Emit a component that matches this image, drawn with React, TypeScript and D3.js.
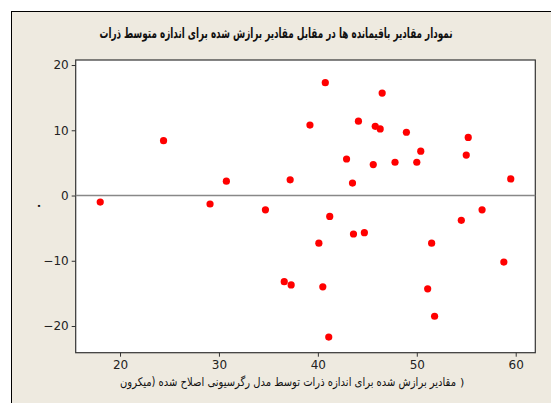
import React, { useEffect, useRef } from "react";
import * as d3 from "d3";

// fitted values (micron) and residuals
const fitted = [
  18.0, 24.4, 30.75, 37.2, 39.2, 29.1, 34.7, 40.1, 36.6, 37.3,
  40.75, 46.5, 44.1, 45.8, 46.3, 48.95, 55.2, 50.4, 55.0, 42.9,
  45.6, 47.8, 50.0, 59.5, 43.5, 41.2, 56.6, 54.5, 43.6, 44.7,
  51.5, 58.8, 40.5, 51.1, 51.8, 41.1,
];
const residuals = [
  -1.0, 8.4, 2.2, 2.4, 10.8, -1.3, -2.2, -7.3, -13.2, -13.7,
  17.3, 15.7, 11.4, 10.6, 10.2, 9.7, 8.9, 6.8, 6.2, 5.6,
  4.75, 5.1, 5.1, 2.55, 1.9, -3.2, -2.2, -3.8, -5.9, -5.7,
  -7.3, -10.2, -14.0, -14.3, -18.5, -21.7,
];
const xTicks = [20, 30, 40, 50, 60];
const yTicks = [-20, -10, 0, 10, 20];

const title = "نمودار مقادیر باقیمانده ها در مقابل مقادیر برازش شده برای اندازه متوسط ذرات";
// the closing bracket is drawn on its own, at the right end, as the source shows it
const xLabel = "مقادیر برازش شده برای اندازه ذرات توسط مدل رگرسیونی اصلاح شده (میکرون";
const yLabel = ".";

const App = () => {
  const svgRef = useRef(null);

  useEffect(() => {
    const width = 551;
    const height = 403;
    const left = 75.7, right = 535.3, top = 60, bottom = 352.7;
    const font = "Tahoma, 'DejaVu Sans', sans-serif";

    const x = d3.scaleLinear().domain([15.52, 61.98]).range([left, right]);
    const y = d3.scaleLinear().domain([-24.09, 20.77]).range([bottom, top]);

    const svg = d3.select(svgRef.current);
    svg.selectAll("*").remove();

    svg.append("rect").attr("width", width).attr("height", height).attr("fill", "#fff");
    // outer panel
    svg.append("rect")
      .attr("x", 11.5).attr("y", 11.5)
      .attr("width", width).attr("height", height)
      .attr("fill", "#eeeae0")
      .attr("stroke", "#000").attr("stroke-width", 1);

    svg.append("text")
      .attr("x", 276).attr("y", 38)
      .attr("text-anchor", "middle")
      .attr("font-family", font).attr("font-size", 14).attr("font-weight", "bold")
      .attr("textLength", 353).attr("lengthAdjust", "spacingAndGlyphs")
      .attr("fill", "#111")
      .text(title);

    // plot box
    svg.append("rect")
      .attr("x", left).attr("y", top)
      .attr("width", right - left).attr("height", bottom - top)
      .attr("fill", "#fff")
      .attr("stroke", "#333").attr("stroke-width", 1.2);

    const xAxis = d3.axisBottom(x).tickValues(xTicks).tickSize(4).tickPadding(4);
    const gx = svg.append("g").attr("transform", `translate(0,${bottom})`).call(xAxis);
    const yAxis = d3.axisLeft(y).tickValues(yTicks).tickSize(4).tickPadding(3);
    const gy = svg.append("g").attr("transform", `translate(${left},0)`).call(yAxis);
    [gx, gy].forEach(g => {
      g.select(".domain").remove();
      g.selectAll("line").attr("stroke", "#333");
      g.selectAll("text")
        .attr("font-family", font).attr("font-size", 12).attr("fill", "#222");
    });

    // zero reference line
    svg.append("line")
      .attr("x1", left).attr("x2", right)
      .attr("y1", y(0)).attr("y2", y(0))
      .attr("stroke", "#888").attr("stroke-width", 1.5);

    svg.append("g")
      .selectAll("circle")
      .data(fitted.map((f, i) => [f, residuals[i]]))
      .join("circle")
      .attr("cx", d => x(d[0]))
      .attr("cy", d => y(d[1]))
      .attr("r", 3.6)
      .attr("fill", "#ff0000");

    svg.append("text")
      .attr("x", 120).attr("y", 386)
      .attr("text-anchor", "start")
      .attr("font-family", font).attr("font-size", 12)
      .attr("textLength", 336).attr("lengthAdjust", "spacingAndGlyphs")
      .attr("fill", "#111")
      .text(xLabel);
    svg.append("text")
      .attr("x", 460).attr("y", 386)
      .attr("font-family", font).attr("font-size", 11)
      .attr("fill", "#111")
      .text(")");

    svg.append("text")
      .attr("transform", `translate(40,206) rotate(-90)`)
      .attr("text-anchor", "middle")
      .attr("font-family", font).attr("font-size", 11).attr("font-weight", "bold")
      .attr("fill", "#111")
      .text(yLabel);
  }, []);

  return (
    <svg
      ref={svgRef}
      width={551}
      height={403}
      style={{ position: "absolute", left: 0, top: 0, display: "block" }}
    />
  );
};

export default App;
